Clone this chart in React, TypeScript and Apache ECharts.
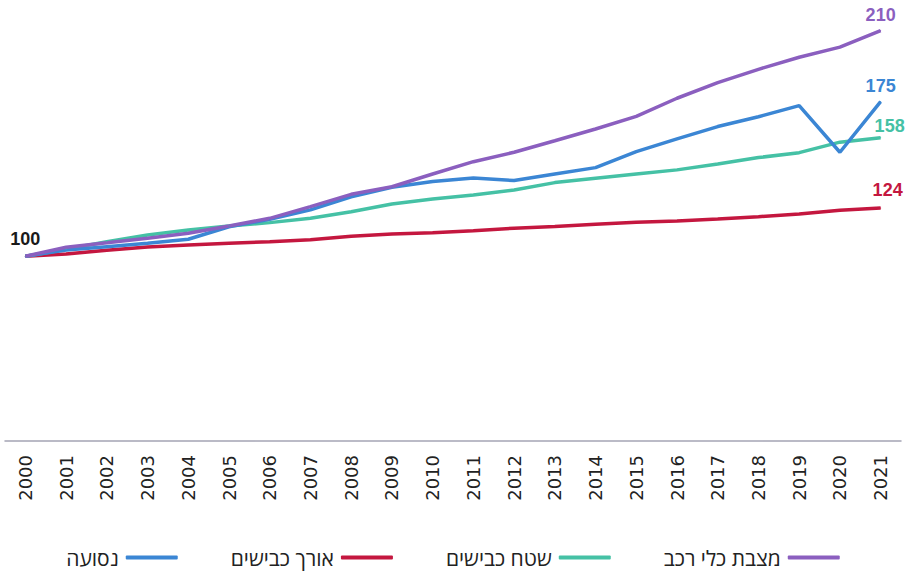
import React, { useEffect, useRef } from "react";
import * as echarts from "echarts";

const years = ["2000","2001","2002","2003","2004","2005","2006","2007","2008","2009","2010","2011","2012","2013","2014","2015","2016","2017","2018","2019","2020","2021"];

const vehicles = [100, 104.4, 106.6, 108.8, 111.2, 114.8, 118.5, 124.2, 130.2, 133.9, 140.1, 146.1, 150.7, 156.3, 162, 168.2, 177, 184.6, 191.1, 197, 201.9, 210];
const travel = [100, 103.1, 104.7, 106.3, 108.3, 114.4, 118, 122.6, 129, 133.6, 136.4, 138.2, 136.9, 140.1, 143.2, 151, 157.2, 163.2, 168, 173.4, 150.7, 175.4];
const roadArea = [100, 103.4, 107.1, 110.4, 112.8, 114.8, 116.4, 118.5, 121.7, 125.5, 127.9, 129.9, 132.3, 135.9, 138, 140.1, 142.1, 145, 148.1, 150.5, 155.6, 157.8];
const roadLength = [100, 101.1, 102.9, 104.5, 105.5, 106.3, 107.1, 108, 109.8, 110.9, 111.5, 112.5, 113.7, 114.5, 115.6, 116.6, 117.2, 118.2, 119.3, 120.6, 122.4, 123.5];

const endLabels = ["210", "175", "158", "124"];
const startLabel = "100";

const names = {
  vehicles: "מצבת כלי רכב",
  roadArea: "שטח כבישים",
  roadLength: "אורך כבישים",
  travel: "נסועה",
};

const legendOrder = [names.travel, names.roadLength, names.roadArea, names.vehicles];

export default function App() {
  const ref = useRef<HTMLDivElement>(null);
  useEffect(() => {
    if (!ref.current) return;
    const chart = echarts.init(ref.current, undefined, { renderer: "svg" });
    const labelFont = "'Liberation Sans', Arial, sans-serif";
    const mk = (
      name: string,
      values: number[],
      color: string,
      endLabel: string,
      endOffset: [number, number],
      withStart: boolean
    ) => ({
      name,
      type: "line",
      showSymbol: true,
      symbol: "circle",
      symbolSize: 1,
      lineStyle: { color, width: 3.5 },
      itemStyle: { color },
      emphasis: { disabled: true },
      data: values.map((v, i) => {
        if (i === values.length - 1) {
          return {
            value: v,
            label: {
              show: true,
              position: "top",
              formatter: endLabel,
              color,
              fontSize: 18,
              fontWeight: "bold",
              fontFamily: labelFont,
              offset: endOffset,
            },
          };
        }
        if (i === 0 && withStart) {
          return {
            value: v,
            label: {
              show: true,
              position: "top",
              formatter: startLabel,
              color: "#1a1a1a",
              fontSize: 18,
              fontWeight: "bold",
              fontFamily: labelFont,
              offset: [0, -3],
            },
          };
        }
        return v;
      }),
    });
    chart.setOption({
      animation: false,
      grid: { left: 5, right: 5, top: 10, bottom: 130, containLabel: false },
      legend: {
        data: legendOrder,
        left: "center",
        top: 542,
        itemWidth: 52,
        itemHeight: 4,
        itemGap: 53,
        align: "right",
        icon: "roundRect",
        textStyle: {
          fontSize: 21,
          color: "#222",
          padding: [0, 2, 0, 0],
          fontFamily: "'Open Sans', 'DejaVu Sans', sans-serif",
        },
      },
      xAxis: {
        type: "category",
        data: years,
        boundaryGap: true,
        axisLine: { lineStyle: { color: "#a4a4b4", width: 1.5 } },
        axisTick: { show: false },
        axisLabel: {
          rotate: 90,
          interval: 0,
          fontSize: 18,
          color: "#222",
          margin: 14,
          fontFamily: "'DejaVu Sans', sans-serif",
        },
      },
      yAxis: {
        type: "value",
        min: 10,
        max: 220,
        show: false,
        splitLine: { show: false },
      },
      series: [
        mk(names.roadLength, roadLength, "#c4173f", endLabels[3], [7, -4], false),
        mk(names.roadArea, roadArea, "#45c1a5", endLabels[2], [9, 3], false),
        mk(names.travel, travel, "#3b86d4", endLabels[1], [0, -1], false),
        mk(names.vehicles, vehicles, "#8b5fbf", endLabels[0], [0, -1], true),
      ],
    });
    return () => chart.dispose();
  }, []);
  return <div ref={ref} style={{ width: 906, height: 571, position: "absolute", left: 0, top: 0 }} />;
}
